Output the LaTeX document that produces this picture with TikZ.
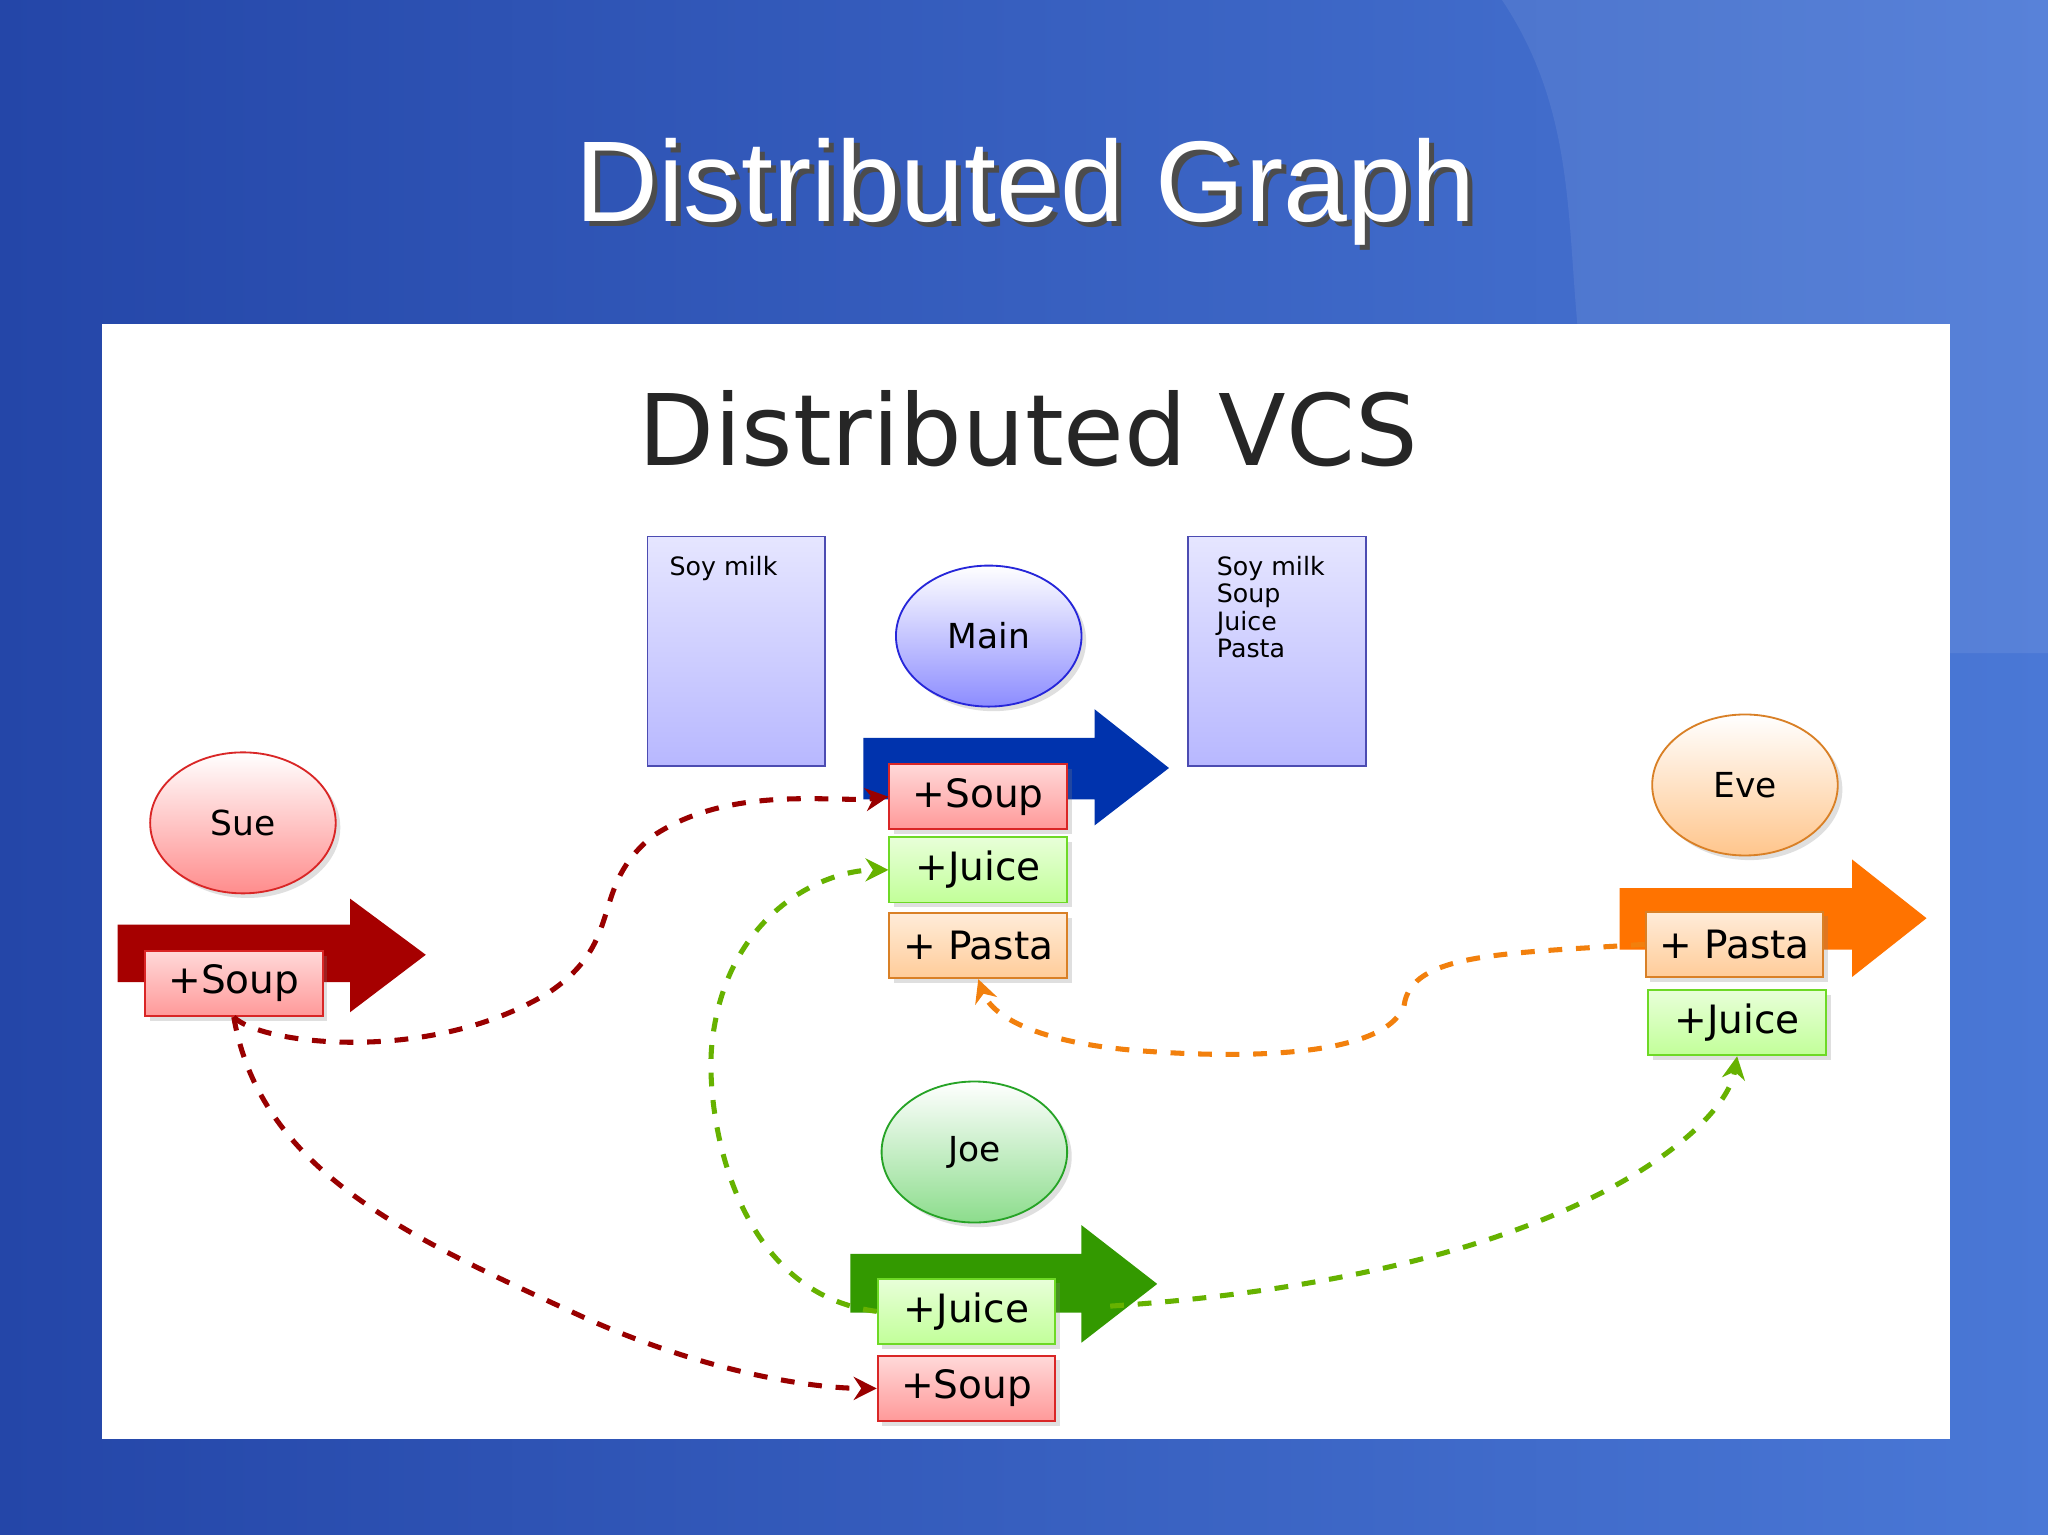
\documentclass[tikz,border=0pt]{standalone}
\usepackage{fontspec}
\setmainfont{DejaVu Sans}
\newfontfamily\titlefont{Liberation Sans}
\usetikzlibrary{shapes.geometric,arrows.meta,shadows}
\definecolor{bgA}{HTML}{2446A8}
\definecolor{bgB}{HTML}{4A78D6}
\tikzset{
 ell/.style={ellipse,draw=#1!70!gray,top color=white,bottom color=#1!45,minimum width=40.4pt,minimum height=30.7pt,inner sep=0pt,font=\fontsize{7.5}{9}\selectfont,drop shadow={opacity=0.25,shadow xshift=1pt,shadow yshift=-1pt}},
 cb/.style={rectangle,draw=#1!70!gray,top color=#1!15,bottom color=#1!40,minimum width=38.7pt,minimum height=14.2pt,inner sep=0pt,font=\fontsize{8.5}{10}\selectfont,drop shadow={opacity=0.25,shadow xshift=1pt,shadow yshift=-1pt}},
 list/.style={rectangle,draw=blue!40!gray,top color=blue!10,bottom color=blue!28,minimum width=38.7pt,minimum height=50pt,anchor=north west,inner sep=0pt},
 conn/.style={dashed,line width=1.1pt,draw=#1,-{Stealth[length=5pt,width=5pt]}},
}
\begin{document}
\begin{tikzpicture}[x=0.01cm,y=-0.01cm]
\useasboundingbox (0,0) rectangle (1568,1175);
\shade[left color=bgA,right color=bgB] (0,0) rectangle (1568,1175);
\fill[white,opacity=0.08] (1150,0) .. controls (1250,150) and (1150,300) .. (1300,500) -- (1568,500) -- (1568,0) -- cycle;
\node[text=black!70,font=\titlefont\fontsize{25}{28}\selectfont] at (789,151) {Distributed Graph};
\node (title) [text=white,font=\titlefont\fontsize{25}{28}\selectfont] at (785,147) {Distributed Graph};
\fill[white] (78,248) rectangle (1493,1102);
\node (sub) [font=\fontsize{21.5}{24}\selectfont,text=black!85] at (787,328) {Distributed VCS};
% lists
\node (l1) [list] at (495,410) {};
\node (l2) [list] at (909,410) {};
\node[anchor=north west,font=\fontsize{5.5}{6}\selectfont,align=left,inner sep=0pt] at (512,425) {Soy milk};
\node[anchor=north west,font=\fontsize{5.5}{6}\selectfont,align=left,inner sep=0pt] at (931,425) {Soy milk\\Soup\\Juice\\Pasta};
% ellipses
\node (main) [ell=blue] at (757,487) {Main};
\node (sue) [ell=red] at (186,630) {Sue};
\node (eve) [ell=orange] at (1336,601) {Eve};
\node (joe) [ell=green!70!black] at (746,882) {Joe};
% big arrows
\fill[blue!60!black!80!cyan] (661,565) -- (838,565) -- (838,543) -- (895,588) -- (838,632) -- (838,612) -- (661,612) -- cycle;
\fill[red!65!black] (90,708) -- (268,708) -- (268,688) -- (326,731) -- (268,775) -- (268,752) -- (90,752) -- cycle;
\fill[orange!90!red] (1240,680) -- (1418,680) -- (1418,658) -- (1475,703) -- (1418,748) -- (1418,727) -- (1240,727) -- cycle;
\fill[green!50!black!80!yellow] (651,960) -- (828,960) -- (828,938) -- (886,983) -- (828,1028) -- (828,1005) -- (651,1005) -- cycle;
% boxes
\node (ms) [cb=red] at (749,610) {+Soup};
\node (mj) [cb=green!60!yellow] at (749,666) {+Juice};
\node (mp) [cb=orange] at (749,724) {+ Pasta};
\node (ss) [cb=red] at (179,753) {+Soup};
\node (ep) [cb=orange] at (1328,723) {+ Pasta};
\node (ej) [cb=green!60!yellow] at (1330,783) {+Juice};
\node (jj) [cb=green!60!yellow] at (740,1004) {+Juice};
\node (js) [cb=red] at (740,1063) {+Soup};
% connectors
\coordinate (jtip) at (850,1000);
\draw[conn=red!60!black] (ss.south) .. controls (200,800) and (330,815) .. (420,760) .. controls (480,720) and (450,680) .. (500,640) .. controls (560,600) and (640,615) .. (ms.west);
\draw[conn=red!60!black] (ss.south) .. controls (200,900) and (320,950) .. (450,1010) .. controls (540,1050) and (620,1063) .. (js.west);
\draw[conn=green!50!black!60!yellow] (jj.west) .. controls (560,990) and (540,850) .. (545,800) .. controls (555,700) and (630,666) .. (mj.west);
\draw[conn=green!50!black!60!yellow] (jtip) .. controls (1000,990) and (1150,960) .. (1250,900) .. controls (1300,870) and (1325,840) .. (ej.south);
\draw[conn=orange!80!brown] (ep.west) .. controls (1150,730) and (1080,730) .. (1075,770) .. controls (1060,810) and (950,810) .. (880,805) .. controls (800,800) and (760,780) .. (mp.south);
\end{tikzpicture}
\end{document}
